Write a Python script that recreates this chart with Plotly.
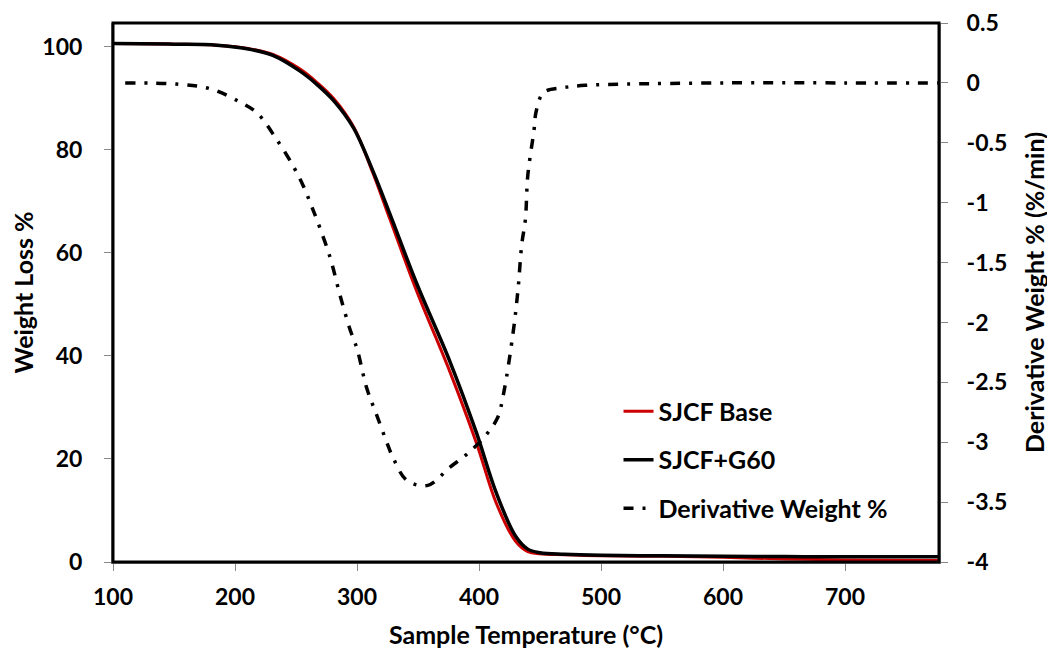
import plotly.graph_objects as go

# Weight curves (Sample Temperature °C vs Weight Loss %)
temp_w = [100, 150, 185, 212, 231, 253, 267, 281, 297, 313, 327, 349, 376, 398, 414, 430, 440, 450, 470, 500, 550, 600, 650, 700, 777]
base_w = [100.6, 100.5, 100.3, 99.6, 98.5, 95.7, 93.1, 89.9, 84.5, 75.5, 66.5, 52.5, 37.0, 23.0, 11.5, 4.0, 2.0, 1.6, 1.4, 1.2, 1.1, 0.9, 0.6, 0.4, 0.3]
g60_w = [100.6, 100.5, 100.3, 99.5, 98.3, 95.3, 92.7, 89.5, 84.3, 75.9, 67.5, 54.0, 39.0, 25.0, 13.5, 5.0, 2.5, 1.8, 1.5, 1.3, 1.2, 1.1, 1.05, 1.0, 1.0]

# Derivative weight curve (%/min)
temp_d = [110, 152, 180, 204, 218, 234, 248, 256, 262, 267, 278, 286, 294, 300, 308, 316, 324, 330, 341, 358, 376, 390, 404, 415, 420, 428, 432, 435, 438, 440, 445, 447, 453, 469, 487, 520, 600, 700, 777]
deriv = [0.0, -0.01, -0.05, -0.16, -0.25, -0.47, -0.70, -0.86, -1.01, -1.14, -1.46, -1.77, -2.05, -2.22, -2.55, -2.77, -2.99, -3.14, -3.32, -3.36, -3.21, -3.10, -2.96, -2.80, -2.60, -2.08, -1.72, -1.35, -1.14, -0.77, -0.40, -0.23, -0.08, -0.04, -0.02, -0.01, 0.0, 0.0, 0.0]

x_ticks = [100, 200, 300, 400, 500, 600, 700]
y_ticks = [0, 20, 40, 60, 80, 100]
y2_ticks = [0.5, 0, -0.5, -1, -1.5, -2, -2.5, -3, -3.5, -4]
y2_labels = ["0.5", "0", "-0.5", "-1", "-1.5", "-2", "-2.5", "-3", "-3.5", "-4"]

FONT = "Lato"
TICKFONT = dict(family=FONT, size=23, weight="bold", color="black")
TITLEFONT = dict(family=FONT, size=25, weight="bold", color="black")

fig = go.Figure()
fig.add_trace(go.Scatter(x=temp_w, y=base_w, mode="lines", name="SJCF Base",
                         line=dict(color="#cc0000", width=3, shape="spline"),
                         legendgroup="a"))
fig.add_trace(go.Scatter(x=temp_w, y=g60_w, mode="lines", name="SJCF+G60",
                         line=dict(color="black", width=3.5, shape="spline"),
                         legendgroup="b"))
fig.add_trace(go.Scatter(x=temp_d, y=deriv, mode="lines", name="Derivative Weight %",
                         line=dict(color="black", width=3.5, dash="10px,9px,3px,9px", shape="spline"),
                         yaxis="y2", legendgroup="c"))

fig.update_layout(
    width=1055, height=650,
    margin=dict(l=105, r=124, t=15, b=96),
    paper_bgcolor="white", plot_bgcolor="white",
    font=dict(family=FONT, size=18, color="black"),
    showlegend=True,
    legend=dict(x=0.612, y=0.322, xanchor="left", yanchor="top",
                bgcolor="rgba(0,0,0,0)", tracegroupgap=13,
                font=dict(family=FONT, size=25, color="black", weight="bold")),
    xaxis=dict(range=[100, 777], tickvals=x_ticks, showgrid=False, zeroline=False,
               automargin=False, ticklabeloverflow="allow",
               showline=True, linecolor="#888888", linewidth=2,
               ticks="outside", tickcolor="#888888", ticklen=7, tickwidth=1,
               ticklabelstandoff=6,
               tickfont=TICKFONT,
               title=dict(text="Sample Temperature (°C)", standoff=18, font=TITLEFONT)),
    yaxis=dict(range=[0, 104.6], tickvals=y_ticks, showgrid=False, zeroline=False,
               automargin=False, ticklabeloverflow="allow",
               showline=True, linecolor="#888888", linewidth=2,
               ticks="outside", tickcolor="#888888", ticklen=7, tickwidth=1,
               ticklabelstandoff=17,
               tickfont=TICKFONT,
               title=dict(text="Weight Loss %", standoff=6, font=TITLEFONT)),
    yaxis2=dict(range=[-4, 0.5], tickvals=y2_ticks, ticktext=y2_labels, overlaying="y",
                side="right", showgrid=False, zeroline=False, automargin=False,
                ticklabeloverflow="allow",
                showline=True, linecolor="#888888", linewidth=2,
                ticks="outside", tickcolor="#888888", ticklen=7, tickwidth=1,
                ticklabelstandoff=14,
                tickfont=TICKFONT,
                title=dict(text="Derivative Weight % (%/min)", standoff=20, font=TITLEFONT)),
    shapes=[dict(type="rect", xref="paper", yref="paper", x0=0, y0=0, x1=1, y1=1,
                 line=dict(color="black", width=3), layer="above")],
)

fig.write_html("out.html")
